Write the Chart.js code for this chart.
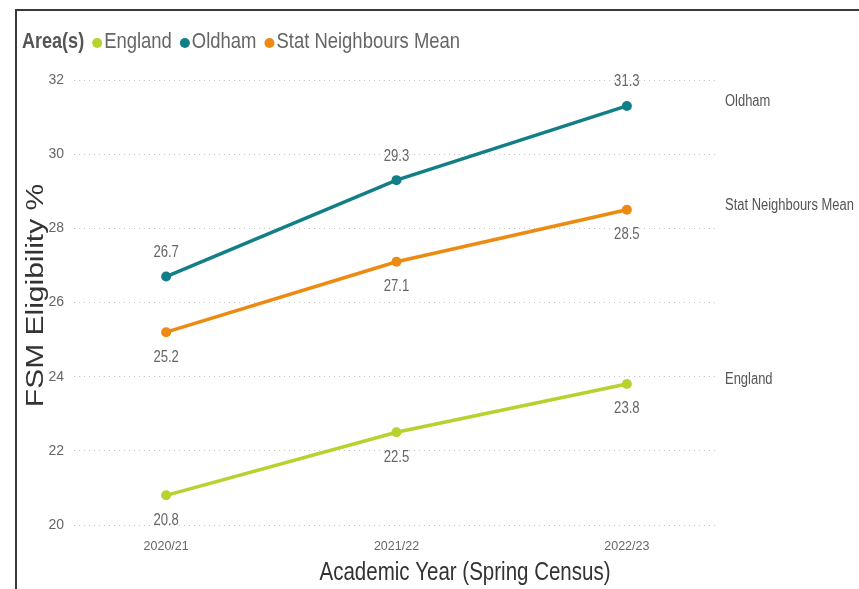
<!DOCTYPE html>
<html>
<head>
<meta charset="utf-8">
<script src="https://cdn.jsdelivr.net/npm/chart.js@4"></script>
<style>
  html, body { margin: 0; padding: 0; background: #ffffff; }
  #wrap { position: relative; width: 859px; height: 589px; }
</style>
</head>
<body>
<div id="wrap"><canvas id="c" width="859" height="589"></canvas></div>
<script>
// ---- data ----
const categories = ['2020/21', '2021/22', '2022/23'];
const england = [20.8, 22.5, 23.8];
const oldham = [26.7, 29.3, 31.3];
const statNeighbours = [25.2, 27.1, 28.5];
const seriesNames = ['England', 'Oldham', 'Stat Neighbours Mean'];
const yTicks = [20, 22, 24, 26, 28, 30, 32];

const colors = {
  'England': '#B6D22F',
  'Oldham': '#127F88',
  'Stat Neighbours Mean': '#EC8A12'
};
const labelSide = { 'England': 'below', 'Oldham': 'above', 'Stat Neighbours Mean': 'below' };

const REG = '"Liberation Sans", Arial, sans-serif';
const SQUEEZE = 0.82; // emulate a narrow face by horizontal scaling

function toPoints(arr) { return arr.map((v, i) => ({ x: i, y: v })); }

// draw horizontally condensed text; returns drawn width
function narrowText(ctx, text, x, y, align, font, color) {
  ctx.save();
  ctx.font = font;
  ctx.fillStyle = color;
  ctx.textBaseline = 'middle';
  const w = ctx.measureText(text).width * SQUEEZE;
  let left = x;
  if (align === 'center') left = x - w / 2;
  else if (align === 'right') left = x - w;
  ctx.translate(left, y);
  ctx.scale(SQUEEZE, 1);
  ctx.textAlign = 'left';
  ctx.fillText(text, 0, 0);
  ctx.restore();
  return w;
}

const seriesValues = [england, oldham, statNeighbours];
const datasets = seriesNames.map((name, k) => ({
  label: name,
  data: toPoints(seriesValues[k]),
  borderColor: colors[name],
  backgroundColor: colors[name],
  borderWidth: 3.5,
  pointRadius: 5,
  pointHoverRadius: 5,
  pointBackgroundColor: colors[name],
  pointBorderWidth: 0,
  tension: 0
}));

const decorPlugin = {
  id: 'decor',
  afterDatasetsDraw(chart) {
    const ctx = chart.ctx;
    const ys = chart.scales.y;
    chart.data.datasets.forEach((ds, di) => {
      const meta = chart.getDatasetMeta(di);
      meta.data.forEach((pt, i) => {
        const v = ds.data[i].y;
        const dy = labelSide[ds.label] === 'above' ? -24 : 25;
        narrowText(ctx, v.toFixed(1), pt.x, pt.y + dy, 'center', '16px ' + REG, '#666666');
      });
      const last = ds.data[ds.data.length - 1];
      narrowText(ctx, ds.label, 725, ys.getPixelForValue(last.y) - 4, 'left', '15.8px ' + REG, '#555555');
    });
  },
  afterDraw(chart) {
    const ctx = chart.ctx;
    const area = chart.chartArea;
    ctx.save();
    // frame lines
    ctx.strokeStyle = '#3a3a3a';
    ctx.lineWidth = 2;
    ctx.beginPath();
    ctx.moveTo(16, 589);
    ctx.lineTo(16, 10);
    ctx.lineTo(859, 10);
    ctx.stroke();
    ctx.restore();
    // y axis title (rotated, condensed in thickness)
    ctx.save();
    ctx.translate(36.5, (area.top + area.bottom) / 2 - 7);
    ctx.rotate(-Math.PI / 2);
    ctx.scale(1, 0.8);
    ctx.font = '30px ' + REG;
    ctx.fillStyle = '#333333';
    ctx.textAlign = 'center';
    ctx.textBaseline = 'middle';
    ctx.fillText('FSM Eligibility %', 0, 0);
    ctx.restore();
    // legend
    let x = 22;
    const y = 42;
    x += narrowText(ctx, 'Area(s)', x, y, 'left', 'bold 22px ' + REG, '#555555');
    seriesNames.forEach(name => {
      const cx = x + 13;
      ctx.save();
      ctx.fillStyle = colors[name];
      ctx.beginPath();
      ctx.arc(cx, y + 1, 5, 0, Math.PI * 2);
      ctx.fill();
      ctx.restore();
      x = cx + 7;
      x += narrowText(ctx, name, x, y, 'left', '22.5px ' + REG, '#666666');
    });
    // x axis title
    narrowText(ctx, 'Academic Year (Spring Census)', 465, 573, 'center', '25px ' + REG, '#333333');
  }
};

new Chart(document.getElementById('c'), {
  type: 'line',
  data: { datasets },
  plugins: [decorPlugin],
  options: {
    responsive: false,
    animation: false,
    layout: { padding: { top: 80, right: 140, bottom: 0, left: 0 } },
    plugins: { legend: { display: false }, tooltip: { enabled: false } },
    scales: {
      x: {
        type: 'linear',
        min: -0.4,
        max: 2.4,
        afterFit(scale) { scale.height = 64; },
        afterBuildTicks(scale) { scale.ticks = categories.map((c, i) => ({ value: i })); },
        ticks: {
          callback: (v) => categories[v] !== undefined ? categories[v] : '',
          font: { family: REG, size: 12.5 },
          color: '#666666',
          padding: 6,
          maxRotation: 0,
          autoSkip: false
        },
        grid: { display: false },
        border: { display: false }
      },
      y: {
        min: 20,
        max: 32,
        afterFit(scale) { scale.width = 74; },
        afterBuildTicks(scale) { scale.ticks = yTicks.map(v => ({ value: v })); },
        ticks: {
          font: { family: REG, size: 14 },
          color: '#666666',
          padding: 10
        },
        grid: {
          color: '#c4c4c4',
          lineWidth: 1,
          drawTicks: false
        },
        border: { display: false, dash: [1, 4] }
      }
    }
  }
});
</script>
</body>
</html>
